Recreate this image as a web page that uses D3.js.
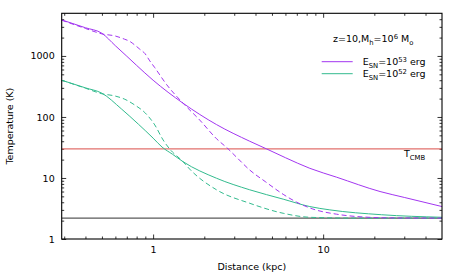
<!DOCTYPE html>
<html><head><meta charset="utf-8">
<script src="https://cdn.jsdelivr.net/npm/d3@7"></script>
<style>
html,body{margin:0;padding:0;background:#fff;}
svg text{font-family:"DejaVu Sans",sans-serif;}
</style></head>
<body>
<svg id="chart" width="461" height="277"></svg>
<script>
// ---- data (distance in kpc, temperature in K) ----
const purpleSolidR = [0.29, 0.4, 0.5, 0.6, 0.7, 0.8, 1.0, 1.5, 2.36, 3.7, 4.64, 6, 8.35, 12, 21.6, 30, 50];
const purpleSolidT = [3900, 2900, 2350, 1470, 990, 700, 400, 168, 75, 40, 30, 21.5, 14.4, 10.3, 6.0, 4.8, 3.4];

const purpleDashR = [0.29, 0.4, 0.5, 0.6, 0.68, 0.73, 0.78, 0.835, 0.894, 0.956, 1.02, 1.2, 1.5, 1.88, 2.36, 2.76, 3.09, 3.7, 4.6, 5.82, 7, 8.7, 12, 17, 25, 50];
const purpleDashT = [3850, 2820, 2300, 2120, 1880, 1730, 1510, 1290, 1100, 830, 650, 340, 168, 89, 44, 30, 22, 13.5, 8.6, 5.4, 4.0, 3.1, 2.55, 2.3, 2.22, 2.2];

const greenSolidR = [0.29, 0.4, 0.5, 0.65, 0.82, 1.0, 1.13, 1.3, 1.5, 2.36, 3.7, 5.82, 8.35, 10.95, 22, 50];
const greenSolidT = [400, 300, 245, 136, 76, 45, 32, 24.5, 18.5, 9.9, 6.4, 4.5, 3.4, 3.0, 2.5, 2.27];

const greenDashR = [0.29, 0.4, 0.5, 0.596, 0.682, 0.78, 0.894, 1.023, 1.145, 1.25, 1.5, 1.64, 2.36, 3.7, 5.82, 8.35, 15, 50];
const greenDashT = [400, 296, 240, 221, 195, 157, 118, 74, 42, 30, 18.5, 14, 6.4, 3.85, 2.64, 2.27, 2.2, 2.2];

const T_CMB = 30;
const T_FLOOR = 2.2;

const xDomain = [0.29, 50];
const yDomain = [1, 5000];
const xMajor = [1, 10];
const yMajor = [1, 10, 100, 1000];

const legendLabels = [["53"], ["52"]];

// ---- layout ----
const L = 61.7, R = 442, T = 13.3, B = 239;
const purple = "#a236f0", green = "#33bb8e";
const FS = 9.5;

const svg = d3.select("#chart");
const x = d3.scaleLog().domain(xDomain).range([L, R]);
const y = d3.scaleLog().domain(yDomain).range([B, T]);

svg.append("defs").append("clipPath").attr("id","clip")
  .append("rect").attr("x",L).attr("y",T).attr("width",R-L).attr("height",B-T);

// minor tick values
const xMinor = [], yMinor = [];
for (const d of [0.1, 1, 10]) for (let k = 2; k <= 9; k++) { const v = d*k; if (v > xDomain[0] && v < xDomain[1]) xMinor.push(v); }
for (const d of [1, 10, 100, 1000]) for (let k = 2; k <= 9; k++) { const v = d*k; if (v > yDomain[0] && v < yDomain[1]) yMinor.push(v); }

function addAxis(gen, tr) {
  const g = svg.append("g").attr("transform", tr).call(gen);
  g.select(".domain").remove();
  g.selectAll("line").attr("stroke", "#000").attr("stroke-width", 0.8);
  g.selectAll("text").attr("font-size", FS).attr("fill", "#000").attr("font-family", "DejaVu Sans");
  return g;
}
const fmt = d3.format("d");
addAxis(d3.axisBottom(x).tickValues(xMajor).tickFormat(fmt).tickSizeInner(-4.5).tickSizeOuter(0).tickPadding(7), `translate(0,${B})`);
addAxis(d3.axisBottom(x).tickValues(xMinor).tickFormat("").tickSizeInner(-2.5).tickSizeOuter(0), `translate(0,${B})`);
addAxis(d3.axisTop(x).tickValues(xMajor).tickFormat("").tickSizeInner(-4.5).tickSizeOuter(0), `translate(0,${T})`);
addAxis(d3.axisTop(x).tickValues(xMinor).tickFormat("").tickSizeInner(-2.5).tickSizeOuter(0), `translate(0,${T})`);
addAxis(d3.axisLeft(y).tickValues(yMajor).tickFormat(fmt).tickSizeInner(-4.5).tickSizeOuter(0).tickPadding(7), `translate(${L},0)`);
addAxis(d3.axisLeft(y).tickValues(yMinor).tickFormat("").tickSizeInner(-2.5).tickSizeOuter(0), `translate(${L},0)`);
addAxis(d3.axisRight(y).tickValues(yMajor).tickFormat("").tickSizeInner(-4.5).tickSizeOuter(0), `translate(${R},0)`);
addAxis(d3.axisRight(y).tickValues(yMinor).tickFormat("").tickSizeInner(-2.5).tickSizeOuter(0), `translate(${R},0)`);

const plot = svg.append("g").attr("clip-path","url(#clip)");

plot.append("line").attr("x1",L).attr("x2",R).attr("y1",y(T_CMB)).attr("y2",y(T_CMB))
  .attr("stroke","#e2706c").attr("stroke-width",1.4);
plot.append("line").attr("x1",L).attr("x2",R).attr("y1",y(T_FLOOR)).attr("y2",y(T_FLOOR))
  .attr("stroke","#5a5a5a").attr("stroke-width",1.3);

const line = d3.line().x(d => x(d[0])).y(d => y(d[1])).curve(d3.curveMonotoneX);
function series(R_, T_, color, dashed) {
  plot.append("path").datum(R_.map((r,i)=>[r,T_[i]]))
    .attr("d", line).attr("fill","none").attr("stroke",color).attr("stroke-width",1)
    .attr("stroke-dasharray", dashed ? "5,3" : null);
}
series(greenSolidR, greenSolidT, green, false);
series(greenDashR, greenDashT, green, true);
series(purpleSolidR, purpleSolidT, purple, false);
series(purpleDashR, purpleDashT, purple, true);

svg.append("rect").attr("x",L).attr("y",T).attr("width",R-L).attr("height",B-T)
  .attr("fill","none").attr("stroke","#000").attr("stroke-width",1.1);

svg.append("text").attr("x",(L+R)/2).attr("y",270).attr("text-anchor","middle")
  .attr("font-size",FS).text("Distance (kpc)");
svg.append("text").attr("transform",`translate(13,${(T+B)/2}) rotate(-90)`).attr("text-anchor","middle")
  .attr("font-size",FS).text("Temperature (K)");

const tc = svg.append("text").attr("x",404).attr("y",157).attr("font-size",FS);
tc.append("tspan").text("T");
tc.append("tspan").attr("dy",3).attr("font-size",FS*0.72).text("CMB");

const tt = svg.append("text").attr("x",333).attr("y",42).attr("font-size",FS);
tt.append("tspan").text("z=10,M");
tt.append("tspan").attr("dy",2.5).attr("font-size",FS*0.72).text("h");
tt.append("tspan").attr("dy",-2.5).text("=10");
tt.append("tspan").attr("dy",-3.5).attr("font-size",FS*0.72).text("6");
tt.append("tspan").attr("dy",3.5).text(" M");
tt.append("tspan").attr("dy",2.5).attr("font-size",FS*0.72).text("o");

const legColors = [purple, green];
legendLabels.forEach((lab, i) => {
  const ly = 61.7 + i*12;
  svg.append("line").attr("x1",321.7).attr("x2",352.7).attr("y1",ly).attr("y2",ly)
    .attr("stroke",legColors[i]).attr("stroke-width",1);
  const t = svg.append("text").attr("x",362.7).attr("y",ly+3.5).attr("font-size",FS);
  t.append("tspan").text("E");
  t.append("tspan").attr("dy",2.5).attr("font-size",FS*0.72).text("SN");
  t.append("tspan").attr("dy",-2.5).text("=10");
  t.append("tspan").attr("dy",-3.5).attr("font-size",FS*0.72).text(lab[0]);
  t.append("tspan").attr("dy",3.5).text(" erg");
});
</script>
</body></html>
